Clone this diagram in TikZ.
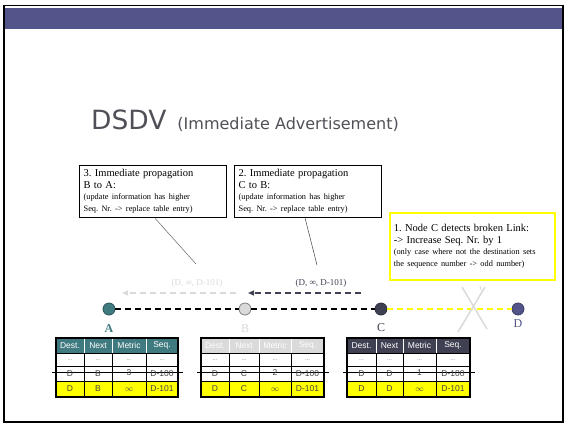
\documentclass[tikz,border=0pt]{standalone}
\usepackage{fontspec}
\setmainfont{Liberation Serif}
\newfontfamily\tabfont{Liberation Sans}
\newfontfamily\headfont{DejaVu Sans}
\usetikzlibrary{arrows.meta}
\frenchspacing

\definecolor{barpurple}{HTML}{52548A}
\definecolor{tealnode}{HTML}{3F7A80}
\definecolor{palegray}{HTML}{DADADA}
\definecolor{darknode}{HTML}{3F4052}
\definecolor{titlegray}{HTML}{505058}
\definecolor{cellgray}{HTML}{444444}
\definecolor{hlyellow}{HTML}{FFFF00}

\tikzset{
  station/.style={circle, minimum size=12pt, inner sep=0pt, line width=0.8pt},
  linkline/.style={line width=1.4pt, dash pattern=on 6pt off 4pt},
  updatearrow/.style={line width=1.3pt, dash pattern=on 6pt off 4pt,
    -{Triangle[length=6pt,width=5pt]}},
  callout/.style={draw, line width=1.3pt, fill=white, align=left, inner sep=4pt,
    anchor=north west, text width=#1},
  cell/.style={font=\tabfont\fontsize{8.5}{10}\selectfont, text=cellgray, inner sep=0pt},
  headcell/.style={font=\tabfont\fontsize{8.5}{10}\selectfont, text=white, inner sep=0pt},
  stationlabel/.style={font=\fontsize{12}{14}\selectfont, inner sep=0pt},
  updatelabel/.style={font=\fontsize{9}{11}\selectfont, inner sep=0pt}
}

% routing table: #1 name prefix, #2..#6 column edges, #7 header colour,
% #8 next hop, #9 old metric
\newcommand\routetable[9]{%
  \fill[#7] (#2,338) rectangle (#6,353);
  \fill[hlyellow] (#2,381) rectangle (#6,397);
  \draw[white, line width=0.8pt] (#3,339)--(#3,353) (#4,339)--(#4,353) (#5,339)--(#5,353);
  \draw[line width=0.8pt] (#2,353)--(#6,353) (#2,366)--(#6,366) (#2,381)--(#6,381)
    (#3,353)--(#3,397) (#4,353)--(#4,397) (#5,353)--(#5,397);
  \draw[line width=0.8pt] (#2-4,372)--(#6+5,372);
  \draw[line width=1.8pt] (#2,338) rectangle (#6,397);
  \pgfmathsetmacro\cA{(#2+#3)/2}%
  \pgfmathsetmacro\cB{(#3+#4)/2}%
  \pgfmathsetmacro\cC{(#4+#5)/2}%
  \pgfmathsetmacro\cD{(#5+#6)/2}%
  \node[headcell] (#1h1) at (\cA,345.5) {Dest.};
  \node[headcell] (#1h2) at (\cB,345.5) {Next};
  \node[headcell] (#1h3) at (\cC,345.5) {Metric};
  \node[headcell] (#1h4) at (\cD,345.5) {Seq.};
  \node[cell, font=\tabfont\fontsize{6}{7}\selectfont, text=gray] (#1a1) at (\cA,360) {...};
  \node[cell, font=\tabfont\fontsize{6}{7}\selectfont, text=gray] (#1a2) at (\cB,360) {...};
  \node[cell, font=\tabfont\fontsize{6}{7}\selectfont, text=gray] (#1a3) at (\cC,360) {...};
  \node[cell, font=\tabfont\fontsize{6}{7}\selectfont, text=gray] (#1a4) at (\cD,360) {...};
  \node[cell] (#1o1) at (\cA,374) {D};
  \node[cell] (#1o2) at (\cB,374) {#8};
  \node[cell] (#1o3) at (\cC,373) {#9};
  \node[cell] (#1o4) at (\cD,374) {D-100};
  \node[cell] (#1n1) at (\cA,389) {D};
  \node[cell] (#1n2) at (\cB,389) {#8};
  \node[cell] (#1n3) at (\cC,389.5) {$\infty$};
  \node[cell] (#1n4) at (\cD,389) {D-101};
}

\begin{document}
\begin{tikzpicture}[x=1pt, y=-1pt]
\useasboundingbox (0,0) rectangle (565,424);
\fill[white] (0,0) rectangle (565,424);

% slide frame and header bar
\fill[barpurple] (5,8) rectangle (563,29);
\draw[line width=1.6pt] (4,5.5) rectangle (563,422);

% title
\node[anchor=base west, inner sep=0pt, text=titlegray] (title) at (91,129)
  {\headfont\fontsize{26.5}{30}\selectfont DSDV\hspace{11pt}\fontsize{16}{19}\selectfont(Immediate Advertisement)};

% callouts
\node[callout=139pt] (prop3) at (79,165)
  {\fontsize{10.5}{12}\selectfont 3. Immediate propagation\\B to A:\\[-1pt]
   \fontsize{8.3}{12}\selectfont (update information has higher\\Seq. Nr. -> replace table entry)};
\node[callout=139pt] (prop2) at (234,165)
  {\fontsize{10.5}{12}\selectfont 2. Immediate propagation\\C to B:\\[-1pt]
   \fontsize{8.3}{12}\selectfont (update information has higher\\Seq. Nr. -> replace table entry)};
\node[callout=157pt, draw=hlyellow, line width=1.6pt, minimum height=67pt] (detect) at (389,212)
  {\fontsize{10.5}{12}\selectfont 1. Node C detects broken Link:\\-> Increase Seq. Nr. by 1\\[-1pt]
   \fontsize{8.3}{12}\selectfont (only case where not the destination sets\\the sequence number -> odd number)};

% stations
\node[station, fill=tealnode, draw=tealnode!70!black] (A) at (109,309) {};
\node[station, fill=palegray, draw=gray] (B) at (245,309) {};
\node[station, fill=darknode, draw=darknode!70!black] (C) at (381,309) {};
\node[station, fill=barpurple, draw=barpurple!70!black] (D) at (518,309) {};

\node[stationlabel, text=tealnode, font=\bfseries\fontsize{12}{14}\selectfont] (Alab) at (109,329) {A};
\node[stationlabel, text=palegray] (Blab) at (245,329) {B};
\node[stationlabel, text=darknode] (Clab) at (381,328) {C};
\node[stationlabel, text=barpurple] (Dlab) at (518,324) {D};

% links
\draw[linkline] (A) -- (B);
\draw[linkline] (B) -- (C);
\draw[linkline, hlyellow] (C) -- (D);

% broken link mark
\coordinate (x1) at (462,287);
\coordinate (x2) at (487,329);
\coordinate (x3) at (485,287);
\coordinate (x4) at (458,332);
\draw[palegray, line width=1.5pt] (x1) -- (x2) (x3) -- (x4);

% update messages
\coordinate (ms2) at (361,293);
\coordinate (me2) at (248,293);
\coordinate (ms3) at (236,293);
\coordinate (me3) at (122,293);
\draw[updatearrow, darknode] (ms2) -- (me2);
\draw[updatearrow, palegray] (ms3) -- (me3);
\node[updatelabel, text=darknode] (lab2) at (321,283) {(D, \textbf{∞}, D-101)};
\node[updatelabel, text=palegray] (lab3) at (197,283) {(D, \textbf{∞}, D-101)};

% callout pointers
\coordinate (p3) at (196,264);
\coordinate (p2) at (317,265);
\draw[gray!80!black, line width=0.5pt] (prop3.south) ++(2,0) -- (p3);
\draw[gray!50!black, line width=0.5pt] (prop2.south) ++(-3,0) -- (p2);
\coordinate (pd1) at (480,286);
\coordinate (pd2) at (481,290);
\draw[palegray, line width=1pt] (pd1) -- (pd2);

% routing tables
\routetable{ta}{56}{84}{112}{146}{178}{tealnode}{B}{3}
\routetable{tb}{201}{229}{259}{291}{324}{palegray}{C}{2}
\routetable{tc}{347}{376}{403}{436}{470}{darknode}{D}{1}

\end{tikzpicture}
\end{document}
